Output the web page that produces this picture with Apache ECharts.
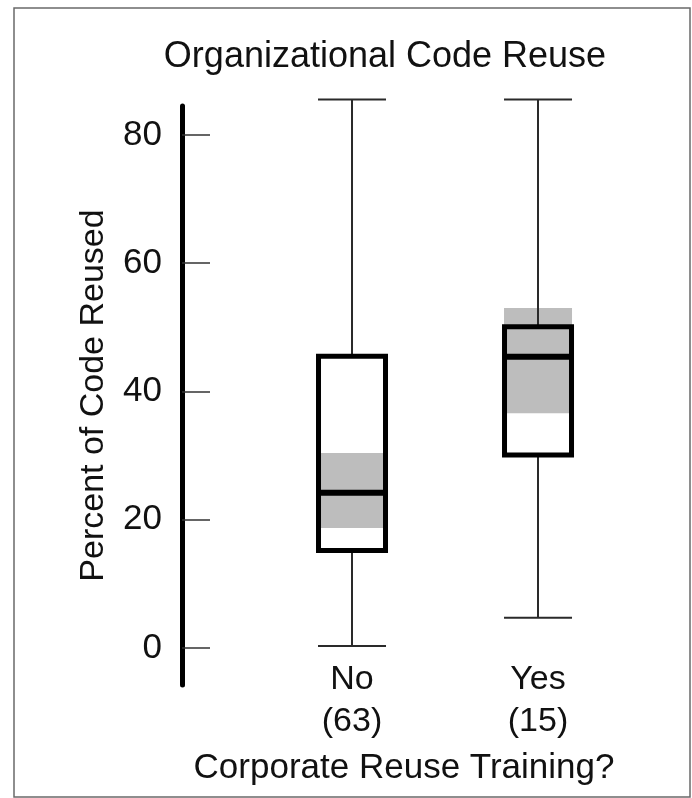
<!DOCTYPE html>
<html>
<head>
<meta charset="utf-8">
<script src="https://cdn.jsdelivr.net/npm/echarts@6/dist/echarts.min.js"></script>
<style>
  html, body { margin: 0; padding: 0; background: #ffffff; }
  #chart { width: 692px; height: 798px; }
</style>
</head>
<body>
<div id="chart"></div>
<script>
const categories = ['No', 'Yes'];
const counts = [63, 15];
const whiskerLow = [0.3, 4.7];
const q1 = [15.2, 30.1];
const medians = [24.2, 45.4];
const q3 = [45.5, 50.1];
const whiskerHigh = [85.5, 85.5];
const notchLow = [18.7, 36.6];
const notchHigh = [30.4, 53.0];
const yTicks = [0, 20, 40, 60, 80];
const xPositions = [1, 2];

const FONT = '"Liberation Sans", Arial, Helvetica, sans-serif';

const data = categories.map((c, i) => [
  xPositions[i], whiskerLow[i], q1[i], medians[i], q3[i], whiskerHigh[i], notchLow[i], notchHigh[i]
]);

function renderItem(params, api) {
  const x = api.value(0);
  const pLow = api.coord([x, api.value(1)]);
  const pQ1 = api.coord([x, api.value(2)]);
  const pMed = api.coord([x, api.value(3)]);
  const pQ3 = api.coord([x, api.value(4)]);
  const pHigh = api.coord([x, api.value(5)]);
  const pNLo = api.coord([x, api.value(6)]);
  const pNHi = api.coord([x, api.value(7)]);
  const cx = pQ1[0];
  const boxW = 67;
  const capW = 68;
  const notchW = 68;
  const whiskerStyle = { stroke: '#2a2a2a', lineWidth: 2 };
  return {
    type: 'group',
    children: [
      { type: 'rect', shape: { x: cx - boxW / 2, y: pQ3[1], width: boxW, height: pQ1[1] - pQ3[1] },
        style: { fill: '#ffffff' } },
      { type: 'rect', shape: { x: cx - notchW / 2, y: pNHi[1], width: notchW, height: pNLo[1] - pNHi[1] },
        style: { fill: '#bdbdbd' } },
      { type: 'line', shape: { x1: cx, y1: pQ3[1], x2: cx, y2: pHigh[1] }, style: whiskerStyle },
      { type: 'line', shape: { x1: cx, y1: pQ1[1], x2: cx, y2: pLow[1] }, style: whiskerStyle },
      { type: 'line', shape: { x1: cx - capW / 2, y1: pHigh[1], x2: cx + capW / 2, y2: pHigh[1] }, style: whiskerStyle },
      { type: 'line', shape: { x1: cx - capW / 2, y1: pLow[1], x2: cx + capW / 2, y2: pLow[1] }, style: whiskerStyle },
      { type: 'rect', shape: { x: cx - boxW / 2, y: pQ3[1], width: boxW, height: pQ1[1] - pQ3[1] },
        style: { fill: 'none', stroke: '#000000', lineWidth: 5 } },
      { type: 'line', shape: { x1: cx - boxW / 2, y1: pMed[1], x2: cx + boxW / 2, y2: pMed[1] },
        style: { stroke: '#000000', lineWidth: 6 } }
    ]
  };
}

const chart = echarts.init(document.getElementById('chart'), null, { renderer: 'canvas' });
chart.setOption({
  backgroundColor: '#ffffff',
  animation: false,
  title: {
    text: 'Organizational Code Reuse',
    left: 380,
    textAlign: 'center',
    top: 34,
    textStyle: { fontFamily: FONT, fontSize: 36, fontWeight: 'normal', color: '#111111' }
  },
  graphic: [
    { type: 'rect', shape: { x: 14, y: 8, width: 676, height: 789 },
      style: { fill: 'none', stroke: '#6a6a6a', lineWidth: 1.5 }, silent: true, z: -1 }
  ],
  grid: { left: 182, right: 66, top: 106, bottom: 113, containLabel: false },
  xAxis: {
    type: 'value',
    min: 0.086,
    max: 2.473,
    axisLine: { show: false },
    axisTick: { show: false },
    splitLine: { show: false },
    axisLabel: {
      customValues: xPositions,
      margin: -26,
      fontFamily: FONT,
      fontSize: 34,
      lineHeight: 42,
      color: '#111111',
      formatter: function (v) {
        const i = xPositions.indexOf(Math.round(v));
        return i < 0 ? '' : categories[i] + '\n(' + counts[i] + ')';
      }
    },
    name: 'Corporate Reuse Training?',
    nameLocation: 'middle',
    nameGap: 66,
    nameTextStyle: { fontFamily: FONT, fontSize: 35, color: '#111111' }
  },
  yAxis: {
    type: 'value',
    min: -5.77,
    max: 84.5,
    axisLine: { show: true, lineStyle: { color: '#000000', width: 5 } },
    axisTick: { show: true, inside: true, length: 28, customValues: yTicks,
      lineStyle: { color: '#333333', width: 1.5 } },
    splitLine: { show: false },
    axisLabel: {
      customValues: yTicks,
      margin: 20,
      fontFamily: FONT,
      fontSize: 35,
      color: '#111111'
    },
    name: 'Percent of Code Reused',
    nameLocation: 'middle',
    nameGap: 71,
    nameTextStyle: { fontFamily: FONT, fontSize: 34, color: '#111111' }
  },
  series: [{
    type: 'custom',
    renderItem: renderItem,
    clip: false,
    encode: { x: 0, y: [1, 2, 3, 4, 5, 6, 7] },
    data: data
  }]
});
</script>
</body>
</html>
